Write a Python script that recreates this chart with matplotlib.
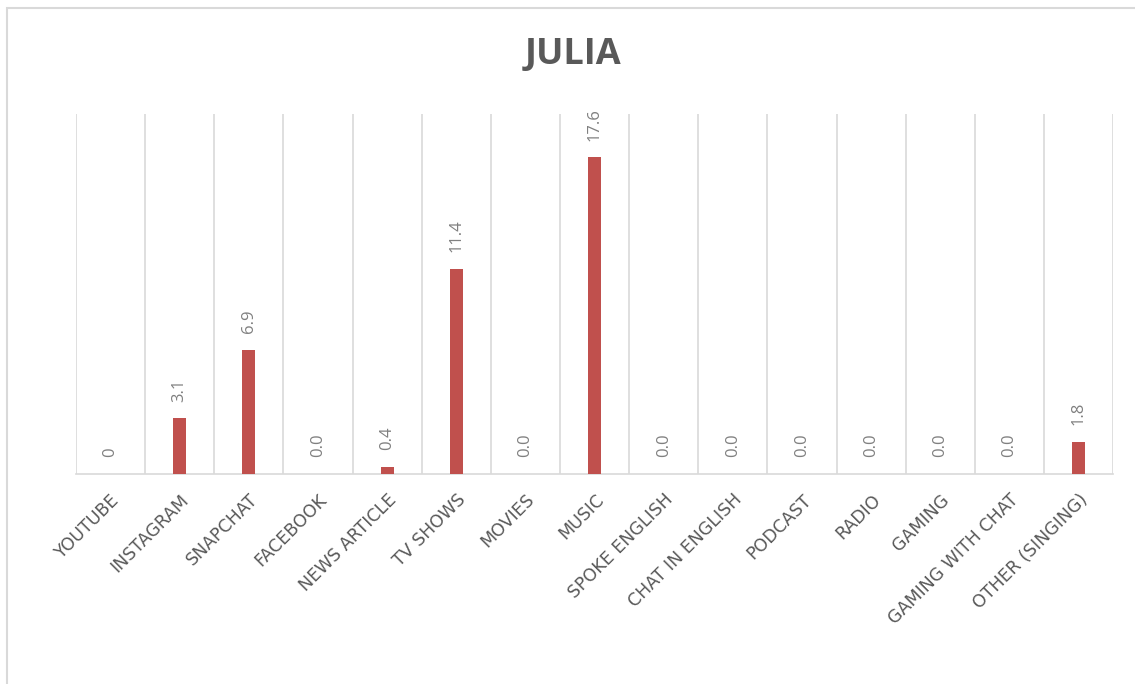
import matplotlib.pyplot as plt
from matplotlib.patches import Rectangle

categories = ["YOUTUBE", "INSTAGRAM", "SNAPCHAT", "FACEBOOK", "NEWS ARTICLE",
              "TV SHOWS", "MOVIES", "MUSIC", "SPOKE ENGLISH", "CHAT IN ENGLISH",
              "PODCAST", "RADIO", "GAMING", "GAMING WITH CHAT", "OTHER (SINGING)"]
values = [0, 3.1, 6.9, 0.0, 0.4, 11.4, 0.0, 17.6, 0.0, 0.0, 0.0, 0.0, 0.0, 0.0, 1.8]
value_labels = ["0", "3.1", "6.9", "0.0", "0.4", "11.4", "0.0", "17.6", "0.0",
                "0.0", "0.0", "0.0", "0.0", "0.0", "1.8"]

plt.rcParams['font.family'] = ['Open Sans', 'DejaVu Sans']

fig = plt.figure(figsize=(11.35, 6.84), dpi=100)
ax = fig.add_axes([0.067, 0.307, 0.9137, 0.526])

x = list(range(len(categories)))
ax.bar(x, values, width=0.19, color="#C0504D", zorder=3)

for i, v in enumerate(values):
    ax.annotate(value_labels[i], (i, v), xytext=(0, 12), textcoords="offset points",
                rotation=90, ha="center", va="bottom", fontsize=12, color="#808080")

# vertical gridlines at category boundaries
for b in range(len(categories) + 1):
    ax.axvline(b - 0.5, color="#D9D9D9", lw=1.2, zorder=1)

ax.set_xlim(-0.5, len(categories) - 0.5)
ax.set_ylim(0, 20)
ax.set_yticks([])
ax.set_xticks(x)
ax.set_xticklabels(categories, rotation=45, ha="right", rotation_mode="anchor")
for lbl in ax.get_xticklabels():
    lbl.set_fontfamily(["DejaVu Sans"])
    lbl.set_fontsize(12.5)
    lbl.set_color("#595959")
ax.tick_params(axis="x", length=0, pad=12)

for s in ["top", "left", "right"]:
    ax.spines[s].set_visible(False)
ax.spines["bottom"].set_color("#D9D9D9")
ax.spines["bottom"].set_linewidth(1.2)

fig.text(0.505, 0.919, "JULIA", ha="center", va="center", fontsize=26,
         fontweight="bold", color="#595959")

# outer chart border (only top and left edges visible in the crop)
fig.patches.append(Rectangle((0.0065, -0.05), 1.1, 1.038, transform=fig.transFigure,
                             fill=False, edgecolor="#D9D9D9", lw=1.5))

fig.savefig("out.png", dpi=100)
